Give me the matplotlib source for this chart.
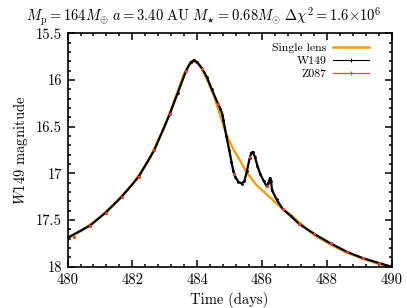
import matplotlib
matplotlib.use("Agg")
import matplotlib.pyplot as plt
from matplotlib.lines import Line2D
from matplotlib.ticker import MultipleLocator

plt.rcParams['font.family'] = 'serif'
plt.rcParams['font.serif'] = ['cmr10', 'DejaVu Serif']
plt.rcParams['mathtext.fontset'] = 'cm'
plt.rcParams['axes.formatter.use_mathtext'] = True

# Single lens model
single_t = [480.0, 480.5, 481.0, 481.5, 482.0, 482.5, 483.0, 483.2, 483.4, 483.6,
            483.75, 483.9, 484.05, 484.2, 484.35, 484.5, 484.7, 484.91, 485.1,
            485.32, 485.53, 485.84, 486.1, 486.35, 486.6, 486.87, 487.1, 487.4,
            487.7, 488.0, 488.5, 489.0, 489.5, 490.0]
single_mag = [17.70, 17.60, 17.47, 17.31, 17.12, 16.86, 16.50, 16.31, 16.12, 15.93,
              15.84, 15.80, 15.83, 15.92, 16.03, 16.15, 16.37, 16.59, 16.73,
              16.86, 16.99, 17.13, 17.21, 17.29, 17.37, 17.44, 17.51, 17.60,
              17.68, 17.74, 17.83, 17.90, 17.96, 18.01]

# W149 light curve
w149_t = [480.0, 480.69, 481.18, 481.67, 482.19, 482.68, 483.16, 483.4, 483.66, 483.8,
          483.9, 484.0, 484.16, 484.3, 484.45, 484.65, 484.72, 484.78, 484.81, 484.9,
          484.99, 485.06, 485.12, 485.18, 485.27, 485.38, 485.46, 485.54, 485.62,
          485.67, 485.72, 485.78, 485.86, 485.95, 486.05, 486.15, 486.20, 486.25,
          486.28, 486.31, 486.45, 486.64, 486.9, 487.14, 487.62, 488.12, 488.62,
          489.13, 489.61, 490.0]
w149_mag = [17.69, 17.56, 17.42, 17.25, 17.04, 16.75, 16.36, 16.14, 15.90, 15.81,
            15.79, 15.81, 15.88, 15.97, 16.10, 16.26, 16.31, 16.37, 16.43, 16.60,
            16.75, 16.88, 16.98, 17.04, 17.09, 17.11, 17.08, 16.97, 16.84,
            16.78, 16.77, 16.82, 16.92, 17.01, 17.08, 17.14, 17.10, 17.05,
            17.08, 17.18, 17.28, 17.38, 17.46, 17.54, 17.65, 17.75, 17.84,
            17.91, 17.96, 18.00]

# Z087 points
z087_t = [480.2, 480.69, 481.18, 481.67, 482.19, 482.68, 483.16, 483.66, 484.16,
          484.65, 485.15, 485.64, 486.15, 486.64, 487.14, 487.62, 488.12, 488.62,
          489.13, 489.61]
z087_mag = [17.68, 17.56, 17.42, 17.25, 17.04, 16.75, 16.36, 15.90, 15.88,
            16.26, 17.01, 16.83, 17.14, 17.38, 17.54, 17.65, 17.75, 17.84,
            17.91, 17.96]

xticks = [480, 482, 484, 486, 488, 490]
xtick_labels = ['480', '482', '484', '486', '488', '490']
yticks = [15.5, 16.0, 16.5, 17.0, 17.5, 18.0]
ytick_labels = ['15.5', '16', '16.5', '17', '17.5', '18']

title = (r'$M_{\rm p}=164M_{\oplus}\ a=3.40\ {\rm AU}\ M_{\star}=0.68M_{\odot}\ '
         r'\Delta\chi^2=1.6{\times}10^6$')

fig = plt.figure(figsize=(4.07, 3.08), dpi=100)
ax = fig.add_axes([0.166, 0.134, 0.796, 0.758])

orange = '#f0a000'
red = '#ff3a3a'
ax.plot(single_t, single_mag, color=orange, lw=1.7, zorder=2)
ax.plot(w149_t, w149_mag, color='black', lw=1.6, marker='.', ms=2.0, zorder=3)
ax.plot(z087_t, z087_mag, ls='none', marker='.', ms=2.5, color=red, zorder=4)

ax.set_xlim(480, 490)
ax.set_ylim(18, 15.5)
ax.set_xticks(xticks)
ax.set_xticklabels(xtick_labels)
ax.set_yticks(yticks)
ax.set_yticklabels(ytick_labels)
ax.xaxis.set_minor_locator(MultipleLocator(0.4))
ax.yaxis.set_minor_locator(MultipleLocator(0.1))
ax.tick_params(which='both', direction='in', top=True, right=True, width=1.1,
               labelsize=10.5)
ax.tick_params(axis='x', pad=5)
ax.tick_params(axis='y', pad=4)
ax.tick_params(which='major', length=5)
ax.tick_params(which='minor', length=2.5)
for s in ax.spines.values():
    s.set_linewidth(1.2)

ax.set_xlabel('Time (days)', fontsize=10.5, labelpad=3)
ax.set_ylabel(r'$W149$ magnitude', fontsize=10.5, labelpad=4)
fig.text(0.5, 0.945, title, ha='center', va='center', fontsize=10.5)

handles = [Line2D([], [], color=orange, lw=1.8),
           Line2D([], [], color='black', lw=0.8, marker='|', ms=3, mew=0.8),
           Line2D([], [], color=red, lw=0.9, marker='|', ms=3, mew=0.9)]
ax.legend(handles, ['Single lens', 'W149', 'Z087'], loc='upper right',
          bbox_to_anchor=(0.93, 0.96), frameon=False, fontsize=8.5,
          markerfirst=False, handlelength=3.0, labelspacing=0.25,
          borderaxespad=0, borderpad=0, handletextpad=0.6)

fig.savefig('out.png', dpi=100)
